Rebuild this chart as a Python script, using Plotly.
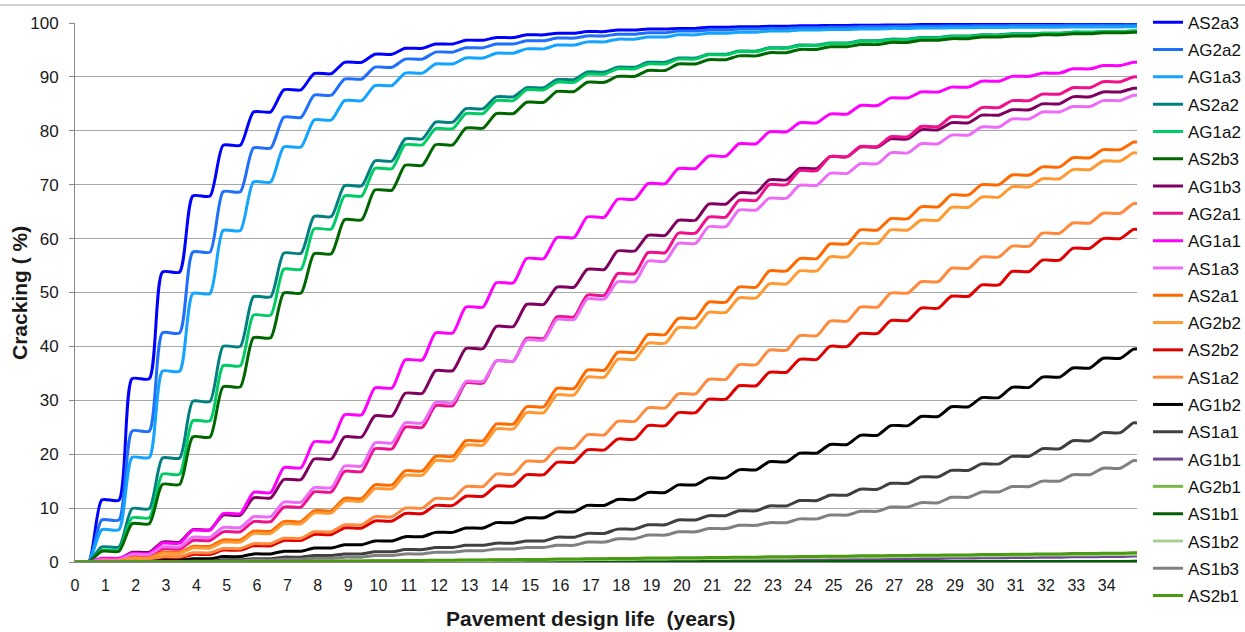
import plotly.graph_objects as go

# Yearly cracking levels (%) reached after each year's cracking season, years 1..35
years = list(range(1, 36))

AS2a3 = [11.5, 34.0, 53.8, 67.9, 77.3, 83.5, 87.6, 90.6, 92.7, 94.2, 95.3, 96.1, 96.8, 97.3, 97.8, 98.1, 98.4, 98.7,
         98.9, 99.0, 99.2, 99.3, 99.4, 99.5, 99.55, 99.6, 99.65, 99.7, 99.72, 99.75, 99.78, 99.8, 99.82, 99.84, 99.85]
AG2a2 = [7.8, 24.3, 42.5, 57.5, 68.7, 76.8, 82.5, 86.6, 89.6, 91.8, 93.3, 94.6, 95.4, 96.1, 96.7, 97.2, 97.6, 97.9,
         98.2, 98.5, 98.7, 98.9, 99.0, 99.1, 99.2, 99.3, 99.35, 99.4, 99.45, 99.5, 99.52, 99.55, 99.58, 99.6, 99.62]
AG1a3 = [6.0, 19.4, 35.4, 49.8, 61.5, 70.5, 77.0, 82.0, 85.6, 88.4, 90.7, 92.4, 93.5, 94.4, 95.2, 95.9, 96.5, 97.0,
         97.4, 97.8, 98.1, 98.3, 98.5, 98.7, 98.8, 98.9, 99.0, 99.05, 99.1, 99.15, 99.2, 99.22, 99.25, 99.28, 99.3]
AS2a2 = [2.8, 9.9, 19.3, 29.8, 40.0, 49.2, 57.3, 64.1, 69.8, 74.4, 78.5, 81.6, 84.1, 86.3, 88.0, 89.5, 90.9, 91.8,
         92.7, 93.5, 94.2, 94.8, 95.4, 95.9, 96.3, 96.7, 97.0, 97.3, 97.6, 97.8, 98.0, 98.1, 98.3, 98.4, 98.5]
AG1a2 = [2.2, 8.2, 16.3, 26.2, 36.4, 45.8, 54.3, 61.8, 67.9, 73.0, 77.4, 80.4, 83.2, 85.6, 87.6, 89.0, 90.5, 91.5,
         92.4, 93.3, 94.1, 94.7, 95.3, 95.8, 96.2, 96.6, 96.9, 97.2, 97.5, 97.7, 97.9, 98.1, 98.3, 98.4, 98.5]
AS2b3 = [2.0, 7.1, 14.4, 23.2, 32.5, 41.6, 49.9, 57.2, 63.5, 69.0, 73.6, 77.4, 80.5, 83.2, 85.3, 87.3, 89.0, 90.1,
         91.2, 92.4, 93.2, 93.9, 94.5, 95.1, 95.6, 96.0, 96.4, 96.8, 97.1, 97.4, 97.6, 97.8, 98.0, 98.2, 98.3]
AG1b3 = [0.5, 1.8, 3.7, 6.0, 8.7, 11.9, 15.3, 19.1, 23.2, 27.1, 31.3, 35.5, 39.6, 43.7, 47.8, 51.0, 54.3, 57.7,
         60.6, 63.4, 66.4, 68.5, 70.9, 73.0, 75.2, 77.0, 78.5, 80.2, 81.5, 82.9, 83.9, 85.0, 86.3, 87.2, 87.9]
AG2a1 = [0.3, 1.0, 2.4, 4.0, 5.6, 7.5, 10.2, 13.0, 16.8, 21.0, 25.0, 29.0, 33.2, 37.3, 41.5, 45.5, 49.5, 53.5,
         57.4, 61.0, 64.0, 67.1, 70.0, 72.6, 75.2, 77.1, 78.9, 80.8, 82.6, 84.3, 85.6, 86.8, 88.0, 89.1, 90.0]
AG1a1 = [0.7, 1.6, 3.5, 5.9, 9.0, 12.9, 17.5, 22.3, 27.3, 32.3, 37.5, 42.5, 47.3, 51.8, 56.3, 60.2, 64.0, 67.3,
         70.2, 73.0, 75.3, 77.6, 79.8, 81.5, 83.1, 84.7, 86.1, 87.2, 88.1, 89.2, 90.1, 90.7, 91.5, 92.1, 92.7]
AS1a3 = [0.4, 1.4, 2.8, 4.6, 6.4, 8.4, 11.1, 13.8, 17.8, 22.1, 25.8, 29.6, 33.5, 37.3, 41.2, 45.0, 48.8, 52.0,
         55.8, 59.1, 62.2, 65.3, 67.5, 69.9, 72.1, 73.9, 75.9, 77.6, 79.2, 80.7, 82.2, 83.5, 84.5, 85.6, 86.6]
AS2a1 = [0.2, 0.8, 1.8, 2.9, 4.1, 5.7, 7.5, 9.5, 11.8, 14.3, 16.9, 19.6, 22.5, 25.6, 28.8, 32.2, 35.6, 38.9,
         42.2, 45.2, 48.2, 51.0, 54.0, 56.3, 59.0, 61.6, 63.7, 65.9, 68.1, 70.0, 71.8, 73.3, 75.0, 76.5, 77.9]
AG2b2 = [0.2, 0.7, 1.6, 2.6, 3.7, 5.3, 7.1, 9.1, 11.3, 13.6, 16.1, 18.8, 21.7, 24.7, 27.7, 31.0, 34.3, 37.6,
         40.6, 43.5, 46.3, 49.0, 51.6, 54.0, 56.6, 59.1, 61.6, 63.4, 65.8, 67.7, 69.6, 71.1, 72.8, 74.4, 75.9]
AS2b2 = [0.1, 0.3, 0.8, 1.4, 2.2, 3.0, 4.0, 5.1, 6.3, 7.6, 9.0, 10.5, 12.2, 14.1, 16.2, 18.5, 20.8, 22.8,
         25.3, 27.7, 30.2, 32.7, 35.2, 37.6, 40.0, 42.4, 44.8, 47.1, 49.3, 51.4, 53.9, 56.0, 58.2, 60.0, 61.7]
AS1a2 = [0.1, 0.4, 1.0, 1.7, 2.5, 3.4, 4.4, 5.6, 6.9, 8.4, 10.0, 11.8, 14.0, 16.3, 18.7, 21.1, 23.6, 26.1,
         28.6, 31.2, 33.9, 36.6, 39.3, 42.0, 44.7, 47.3, 49.9, 52.0, 54.5, 56.6, 58.6, 61.0, 62.9, 64.7, 66.5]
AG1b2 = [0.0, 0.1, 0.3, 0.6, 1.0, 1.5, 2.0, 2.6, 3.2, 3.9, 4.7, 5.5, 6.3, 7.3, 8.2, 9.3, 10.5, 11.6,
         12.9, 14.3, 15.6, 17.1, 18.6, 20.2, 21.8, 23.5, 25.3, 27.0, 28.8, 30.5, 32.4, 34.3, 36.0, 37.8, 39.5]
AS1a1 = [0.0, 0.0, 0.1, 0.2, 0.4, 0.6, 0.9, 1.2, 1.5, 1.9, 2.3, 2.7, 3.1, 3.5, 3.9, 4.6, 5.3, 6.1,
         6.9, 7.8, 8.6, 9.5, 10.4, 11.4, 12.4, 13.5, 14.6, 15.8, 17.0, 18.2, 19.6, 21.0, 22.5, 24.0, 25.8]
AG1b1 = [0.0, 0.0, 0.0, 0.0, 0.0, 0.0, 0.0, 0.0, 0.0, 0.0, 0.02, 0.04, 0.06, 0.08, 0.1, 0.13, 0.16, 0.2,
         0.24, 0.28, 0.32, 0.36, 0.4, 0.45, 0.5, 0.55, 0.6, 0.66, 0.72, 0.78, 0.84, 0.9, 0.96, 1.02, 1.1]
AG2b1 = [0.0, 0.0, 0.0, 0.02, 0.04, 0.06, 0.09, 0.12, 0.15, 0.19, 0.23, 0.27, 0.31, 0.36, 0.41, 0.46, 0.51, 0.56,
         0.61, 0.66, 0.72, 0.78, 0.84, 0.9, 0.96, 1.02, 1.08, 1.14, 1.2, 1.26, 1.32, 1.38, 1.44, 1.5, 1.55]
AS1b1 = [0.0, 0.0, 0.0, 0.0, 0.0, 0.0, 0.0, 0.0, 0.0, 0.0, 0.0, 0.0, 0.01, 0.01, 0.02, 0.02, 0.03, 0.03,
         0.04, 0.04, 0.05, 0.05, 0.06, 0.06, 0.07, 0.07, 0.08, 0.08, 0.09, 0.09, 0.1, 0.1, 0.11, 0.11, 0.12]
AS1b2 = [0.0, 0.0, 0.0, 0.01, 0.03, 0.05, 0.07, 0.1, 0.13, 0.16, 0.2, 0.24, 0.28, 0.32, 0.36, 0.41, 0.46, 0.51,
         0.56, 0.61, 0.66, 0.71, 0.76, 0.82, 0.88, 0.94, 1.0, 1.06, 1.12, 1.18, 1.23, 1.28, 1.33, 1.38, 1.42]
AS1b3 = [0.0, 0.0, 0.05, 0.1, 0.2, 0.35, 0.5, 0.7, 0.9, 1.2, 1.5, 1.8, 2.1, 2.4, 2.7, 3.1, 3.7, 4.3,
         5.0, 5.6, 6.2, 6.8, 7.3, 8.0, 8.7, 9.4, 10.2, 11.0, 12.0, 13.0, 14.0, 15.0, 16.2, 17.4, 18.8]
AS2b1 = [0.0, 0.0, 0.01, 0.03, 0.05, 0.08, 0.11, 0.15, 0.19, 0.23, 0.28, 0.33, 0.38, 0.43, 0.48, 0.54, 0.6, 0.66,
         0.72, 0.78, 0.84, 0.9, 0.96, 1.02, 1.08, 1.14, 1.2, 1.26, 1.32, 1.38, 1.44, 1.5, 1.56, 1.62, 1.7]

series_names = ["AS2a3", "AG2a2", "AG1a3", "AS2a2", "AG1a2", "AS2b3", "AG1b3", "AG2a1", "AG1a1", "AS1a3",
                "AS2a1", "AG2b2", "AS2b2", "AS1a2", "AG1b2", "AS1a1", "AG1b1", "AG2b1", "AS1b1", "AS1b2",
                "AS1b3", "AS2b1"]
series_values = [AS2a3, AG2a2, AG1a3, AS2a2, AG1a2, AS2b3, AG1b3, AG2a1, AG1a1, AS1a3,
                 AS2a1, AG2b2, AS2b2, AS1a2, AG1b2, AS1a1, AG1b1, AG2b1, AS1b1, AS1b2,
                 AS1b3, AS2b1]
series_colors = ["#0000ff", "#1f6fff", "#12a4ff", "#008080", "#00cc66", "#006600", "#800060", "#f0108c",
                 "#ff00ff", "#ec6cf8", "#ff6a00", "#ff9a33", "#e00000", "#ff8a3d", "#000000", "#404040",
                 "#6f4a92", "#7ab648", "#005f00", "#a9d08e", "#808080", "#4a9a12"]

x_tick_labels = [str(i) for i in range(35)]

# Cracking develops during part of each year, flat for the rest
SEASON_START = 0.45
SEASON_END = 0.88


def staircase(levels):
    xs, ys, prev = [0.0], [0.0], 0.0
    for k, v in enumerate(levels):
        xs += [k + SEASON_START, k + SEASON_END]
        ys += [prev, v]
        prev = v
    xs.append(35.0)
    ys.append(prev)
    return xs, ys


fig = go.Figure()
for name, vals, col in zip(series_names, series_values, series_colors):
    xs, ys = staircase(vals)
    fig.add_trace(go.Scatter(
        x=xs, y=ys, name=name, mode="lines", legendgroup=name,
        line=dict(color=col, width=3, shape="spline", smoothing=0.6),
        cliponaxis=False,
    ))

FONT = "Arial, Liberation Sans, sans-serif"
PLOT_L, PLOT_T, PLOT_W, PLOT_H = 75, 23, 1062, 539

fig.update_layout(
    width=1245, height=632,
    margin=dict(l=PLOT_L, r=1245 - PLOT_L - PLOT_W, t=PLOT_T, b=632 - PLOT_T - PLOT_H, autoexpand=False),
    paper_bgcolor="white", plot_bgcolor="white",
    font=dict(family=FONT, color="#1a1a1a", size=16),
    showlegend=True,
    legend=dict(x=(1148 - PLOT_L) / PLOT_W, y=(PLOT_T + PLOT_H - 4.7) / PLOT_H,
                xanchor="left", yanchor="top",
                font=dict(family=FONT, size=17, color="#111"),
                tracegroupgap=2.2, bgcolor="rgba(0,0,0,0)",
                itemwidth=30, maxheight=700),
    xaxis=dict(range=[0, 35], tickmode="array", tickvals=list(range(35)), ticktext=x_tick_labels,
               showgrid=False, zeroline=False, showline=True, linecolor="#888888", linewidth=1,
               ticks="", ticklabelstandoff=9, tickfont=dict(family=FONT, size=16, color="#1a1a1a"),
               layer="below traces", fixedrange=True),
    yaxis=dict(range=[0, 100], tickmode="array", tickvals=list(range(0, 101, 10)),
               showgrid=True, gridcolor="#a8a8a8", gridwidth=1, zeroline=False,
               showline=True, linecolor="#888888", linewidth=1,
               ticks="outside", ticklen=5, tickcolor="#888888", ticklabelstandoff=7,
               tickfont=dict(family=FONT, size=17, color="#1a1a1a"),
               layer="below traces", fixedrange=True),
    annotations=[
        dict(text="<b>Cracking ( %)</b>", x=(19 - PLOT_L) / PLOT_W, y=(PLOT_T + PLOT_H - 293) / PLOT_H,
             xref="paper", yref="paper",
             textangle=-90, showarrow=False, font=dict(family=FONT, size=21, color="#1a1a1a"),
             xanchor="center", yanchor="middle"),
        dict(text="<b>Pavement design life \u00a0(years)</b>", x=(590 - PLOT_L) / PLOT_W,
             y=(PLOT_T + PLOT_H - 618) / PLOT_H, xref="paper", yref="paper",
             showarrow=False, font=dict(family=FONT, size=21, color="#1a1a1a"),
             xanchor="center", yanchor="middle"),
    ],
    shapes=[
        dict(type="line", xref="paper", yref="paper", x0=-PLOT_L / PLOT_W, x1=(1245 - PLOT_L) / PLOT_W,
             y0=(PLOT_T + PLOT_H - 5) / PLOT_H, y1=(PLOT_T + PLOT_H - 5) / PLOT_H,
             line=dict(color="#a6a6a6", width=1)),
    ],
)

fig.write_html("out.html", config={"displayModeBar": False})
